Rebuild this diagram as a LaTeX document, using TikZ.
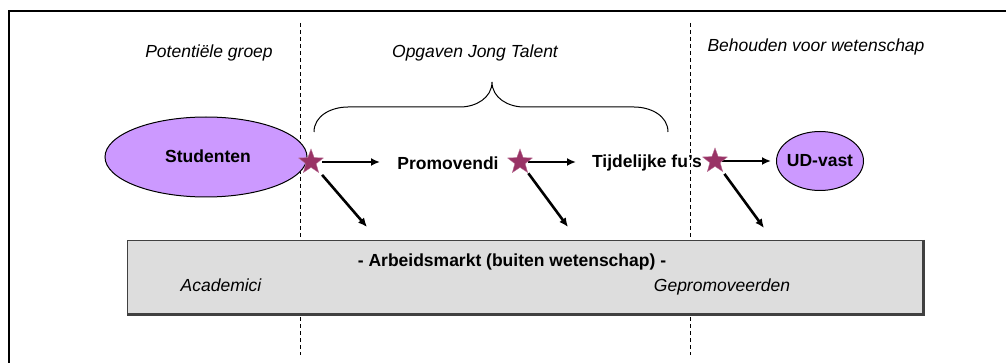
\documentclass[tikz,border=0pt]{standalone}
\usepackage{fontspec}
\setmainfont{Liberation Sans}
\usetikzlibrary{shapes.geometric,arrows.meta}
\definecolor{starc}{HTML}{993366}
\definecolor{lilac}{HTML}{CC99FF}
\definecolor{boxgrey}{HTML}{DDDDDD}
\tikzset{
  lbl/.style={font=\fontsize{17.5}{20}\selectfont\itshape, inner sep=0pt},
  blbl/.style={font=\fontsize{17.5}{20}\selectfont\bfseries, inner sep=0pt},
  grp/.style={draw=black, line width=1pt, fill=lilac, ellipse, inner sep=0pt},
  starnode/.style={star, star points=5, star point ratio=2.4, minimum size=26pt, inner sep=0pt, fill=starc, draw=starc!70!white, line width=0.4pt},
  arr/.style={line width=2.6pt, -{Latex[length=9pt,width=8pt]}},
  divider/.style={dashed, dash pattern=on 4pt off 3pt, line width=0.8pt},
}
\begin{document}
\begin{tikzpicture}[x=1pt,y=-1pt]
\useasboundingbox (0,0) rectangle (1006,363);
\begin{scope}
\clip (0,0) rectangle (1006,363);
\draw[line width=2pt] (9,375) -- (9,11) -- (1020,11);
\end{scope}
% dividers
\coordinate (d1t) at (300,23); \coordinate (d1b) at (300,355);
\coordinate (d2t) at (690,23); \coordinate (d2b) at (690,355);
\draw[divider] (d1t) -- (d1b);
\draw[divider] (d2t) -- (d2b);
% labour market box
\node[draw=black!75, line width=1pt, fill=boxgrey, minimum width=795pt, minimum height=73pt, inner sep=0pt, anchor=north west] (market) at (127,240) {};
\draw[black!75, line width=2.5pt] ([xshift=1pt]market.north east) -- ([xshift=1pt,yshift=-1pt]market.south east) -- ([yshift=-1pt]market.south west);
\node[blbl] (markettitle) at (512,262) {- Arbeidsmarkt (buiten wetenschap) -};
\node[lbl] (academici) at (221,285) {Academici};
\node[lbl] (gepromoveerden) at (722,287) {Gepromoveerden};
% headings
\node[lbl] (potentieel) at (209,53) {Potentiële groep};
\node[lbl] (opgaven) at (475,53) {Opgaven Jong Talent};
\node[lbl] (behouden) at (816,47) {Behouden voor wetenschap};
% brace
\coordinate (brl) at (314,132);
\coordinate (brtip) at (492,82);
\coordinate (brr) at (668,132);
\draw[line width=1pt] (brl) to[out=90,in=180] (348,107) -- (460,107) to[out=0,in=-90] (brtip)
  to[out=-90,in=180] (524,107) -- (634,107) to[out=0,in=90] (brr);
% groups
\node[grp, minimum width=202pt, minimum height=80pt] (studenten) at (206,157) {};
\node[blbl] (studententxt) at (208,156) {Studenten};
\node[blbl] (promovendi) at (448,163) {Promovendi};
\node[blbl] (tijdelijk) at (647,163) {Tijdelijke fu’s};
\node[grp, minimum width=87pt, minimum height=59pt] (udvast) at (820,161) {};
\node[blbl] (udvasttxt) at (820,161) {UD-vast};
% star positions and arrows
\coordinate (c1) at (311,162);
\coordinate (c2) at (520,162);
\coordinate (c3) at (715,161);
\coordinate (h1) at (380,162);
\coordinate (h2) at (576,162);
\coordinate (h3) at (771,161);
\coordinate (v1) at (367,227);
\coordinate (v2) at (568,227);
\coordinate (v3) at (764,228);
\draw[arr, shorten <=11pt] (c1) -- (h1);
\draw[arr, shorten <=8pt] (c2) -- (h2);
\draw[arr, shorten <=7pt] (c3) -- (h3);
\draw[arr, shorten <=17pt] (c1) -- (v1);
\draw[arr, shorten <=14pt] (c2) -- (v2);
\draw[arr, shorten <=16pt] (c3) -- (v3);
\node[starnode] (s1) at (c1) {};
\node[starnode] (s2) at (c2) {};
\node[starnode] (s3) at (c3) {};
\end{tikzpicture}
\end{document}
